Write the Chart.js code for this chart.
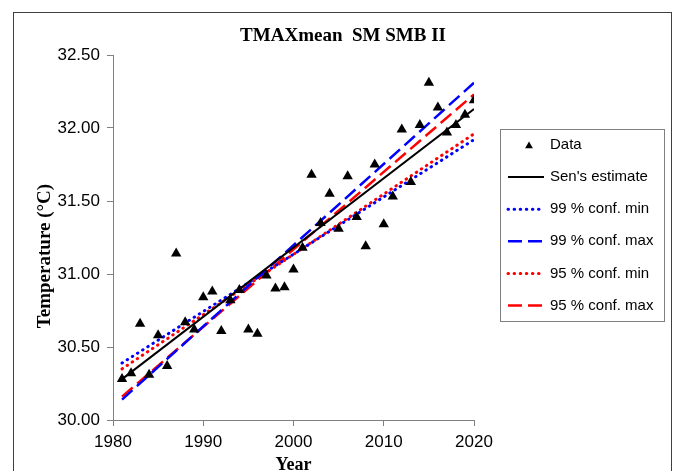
<!DOCTYPE html>
<html>
<head>
<meta charset="utf-8">
<script src="https://cdn.jsdelivr.net/npm/chart.js@4"></script>
<style>
    html, body { margin: 0; padding: 0; background: #fff; }
    #wrap { width: 674px; height: 471px; overflow: hidden; }
</style>
</head>
<body>
<div id="wrap"><canvas id="mainChart" width="674" height="471"></canvas></div>
<script>
const years = [1981, 1982, 1983, 1984, 1985, 1986, 1987, 1988, 1989, 1990,
               1991, 1992, 1993, 1994, 1995, 1996, 1997, 1998, 1999, 2000,
               2001, 2002, 2003, 2004, 2005, 2006, 2007, 2008, 2009, 2010,
               2011, 2012, 2013, 2014, 2015, 2016, 2017, 2018, 2019, 2020];
const tmax = [30.28, 30.32, 30.66, 30.31, 30.58, 30.37, 31.14, 30.67, 30.62, 30.84,
              30.88, 30.61, 30.82, 30.89, 30.62, 30.59, 30.99, 30.90, 30.91, 31.03,
              31.18, 31.68, 31.35, 31.55, 31.31, 31.67, 31.39, 31.19, 31.75, 31.34,
              31.53, 31.99, 31.63, 32.02, 32.31, 32.14, 31.97, 32.02, 32.09, 32.19];

// trend lines, read at first and last year
const lineYears = [1981, 2020];
const senEstimate = [30.28, 32.13];
const conf99Min = [30.39, 31.92];
const conf99Max = [30.14, 32.31];
const conf95Min = [30.35, 31.96];
const conf95Max = [30.16, 32.23];

const xTickValues = [1980, 1990, 2000, 2010, 2020];
const xTickLabels = ['1980', '1990', '2000', '2010', '2020'];
const yTickValues = [30.0, 30.5, 31.0, 31.5, 32.0, 32.5];
const yTickLabels = ['30.00', '30.50', '31.00', '31.50', '32.00', '32.50'];

const SANS = '"Liberation Sans", Arial, sans-serif';
const SERIF = '"Liberation Serif", "Times New Roman", serif';

function toPoints(xs, ys) {
    return xs.map((x, i) => ({x: x, y: ys[i]}));
}

const lineStyles = {
    solid:  {width: 2,   dash: [],        cap: 'butt'},
    dotted: {width: 3,   dash: [0.5, 5.6], cap: 'round'},
    dashed: {width: 2.5, dash: [14, 6],   cap: 'butt'},
};

function lineSet(label, values, color, style) {
    const st = lineStyles[style];
    return {
        label: label,
        data: toPoints(lineYears, values),
        showLine: true,
        pointRadius: 0,
        borderColor: color,
        borderWidth: st.width,
        borderDash: st.dash,
        borderCapStyle: st.cap,
    };
}

const pageFrame = {
    id: 'pageFrame',
    beforeDraw(chart) {
        const ctx = chart.ctx;
        ctx.save();
        ctx.fillStyle = '#fff';
        ctx.fillRect(0, 0, chart.width, chart.height);
        ctx.strokeStyle = '#404040';
        ctx.lineWidth = 1;
        ctx.strokeRect(13.5, 12.5, 658, 500);
        ctx.restore();
    },
    afterDraw(chart) {
        const ctx = chart.ctx;
        ctx.save();
        ctx.fillStyle = '#000';
        ctx.font = 'bold 19px ' + SERIF;
        ctx.textAlign = 'center';
        ctx.textBaseline = 'middle';
        ctx.fillText('TMAXmean  SM SMB II', 343, 36);
        // y axis title, sits a bit below the plot middle like the original
        ctx.translate(45, 256);
        ctx.rotate(-Math.PI / 2);
        ctx.font = 'bold 19px ' + SERIF;
        ctx.fillText('Temperature (°C)', 0, 0);
        ctx.restore();
    }
};

// boxed legend at the right, drawn from the dataset styles
const boxLegend = {
    id: 'boxLegend',
    afterDraw(chart) {
        const ctx = chart.ctx;
        ctx.save();
        ctx.strokeStyle = '#808080';
        ctx.lineWidth = 1;
        ctx.strokeRect(500.5, 129.5, 164, 192);
        ctx.font = '15px ' + SANS;
        ctx.textBaseline = 'middle';
        chart.data.datasets.forEach((ds, i) => {
            const y = 145 + i * 32.1;
            if (ds.showLine) {
                ctx.beginPath();
                ctx.strokeStyle = ds.borderColor;
                ctx.lineWidth = ds.borderWidth;
                ctx.lineCap = ds.borderCapStyle;
                ctx.setLineDash(ds.borderDash);
                ctx.moveTo(508, y);
                ctx.lineTo(544, y);
                ctx.stroke();
                ctx.setLineDash([]);
            } else {
                ctx.fillStyle = '#000';
                Chart.helpers.drawPoint(ctx, {pointStyle: 'triangle', radius: 4.5, borderWidth: 0, rotation: 0}, 529, y + 1);
            }
            ctx.fillStyle = '#000';
            ctx.fillText(ds.label, 550, y);
        });
        ctx.restore();
    }
};

const ctx = document.getElementById('mainChart').getContext('2d');

new Chart(ctx, {
    type: 'scatter',
    data: {
        datasets: [
            {
                label: 'Data',
                data: toPoints(years, tmax),
                pointStyle: 'triangle',
                pointRadius: 6,
                backgroundColor: '#000',
                borderColor: '#000',
                borderWidth: 0,
            },
            lineSet("Sen's estimate", senEstimate, '#000', 'solid'),
            lineSet('99 % conf. min', conf99Min, '#0000ff', 'dotted'),
            lineSet('99 % conf. max', conf99Max, '#0000ff', 'dashed'),
            lineSet('95 % conf. min', conf95Min, '#ff0000', 'dotted'),
            lineSet('95 % conf. max', conf95Max, '#ff0000', 'dashed'),
        ],
    },
    options: {
        responsive: false,
        animation: false,
        devicePixelRatio: 1,
        layout: { padding: {left: 0, right: 200, top: 55, bottom: 0} },
        plugins: {
            legend: {display: false},
            tooltip: {enabled: false},
        },
        elements: { line: { tension: 0 } },
        scales: {
            x: {
                type: 'linear',
                min: 1980,
                max: 2020,
                afterBuildTicks: (s) => { s.ticks = xTickValues.map(v => ({value: v})); },
                afterFit: (s) => { s.height = 51; },
                ticks: {
                    callback: (v, i) => xTickLabels[i],
                    color: '#000',
                    font: {family: SANS, size: 17},
                    padding: 6,
                    maxRotation: 0,
                    autoSkip: false,
                },
                grid: {display: true, drawOnChartArea: false, drawTicks: true, tickLength: 6, color: '#808080'},
                border: {display: true, color: '#808080', width: 1},
                title: {
                    display: true,
                    text: 'Year',
                    color: '#000',
                    font: {family: SERIF, weight: 'bold', size: 18, lineHeight: 1},
                    padding: {top: 0, bottom: -3},
                },
            },
            y: {
                type: 'linear',
                min: 30,
                max: 32.5,
                afterBuildTicks: (s) => { s.ticks = yTickValues.map(v => ({value: v})); },
                afterFit: (s) => { s.width = 113; },
                ticks: {
                    callback: (v, i) => yTickLabels[i],
                    color: '#000',
                    font: {family: SANS, size: 17},
                    padding: 7,
                },
                grid: {display: true, drawOnChartArea: false, drawTicks: true, tickLength: 6, color: '#808080'},
                border: {display: true, color: '#808080', width: 1},
            },
        },
    },
    plugins: [pageFrame, boxLegend],
});
</script>
</body>
</html>
